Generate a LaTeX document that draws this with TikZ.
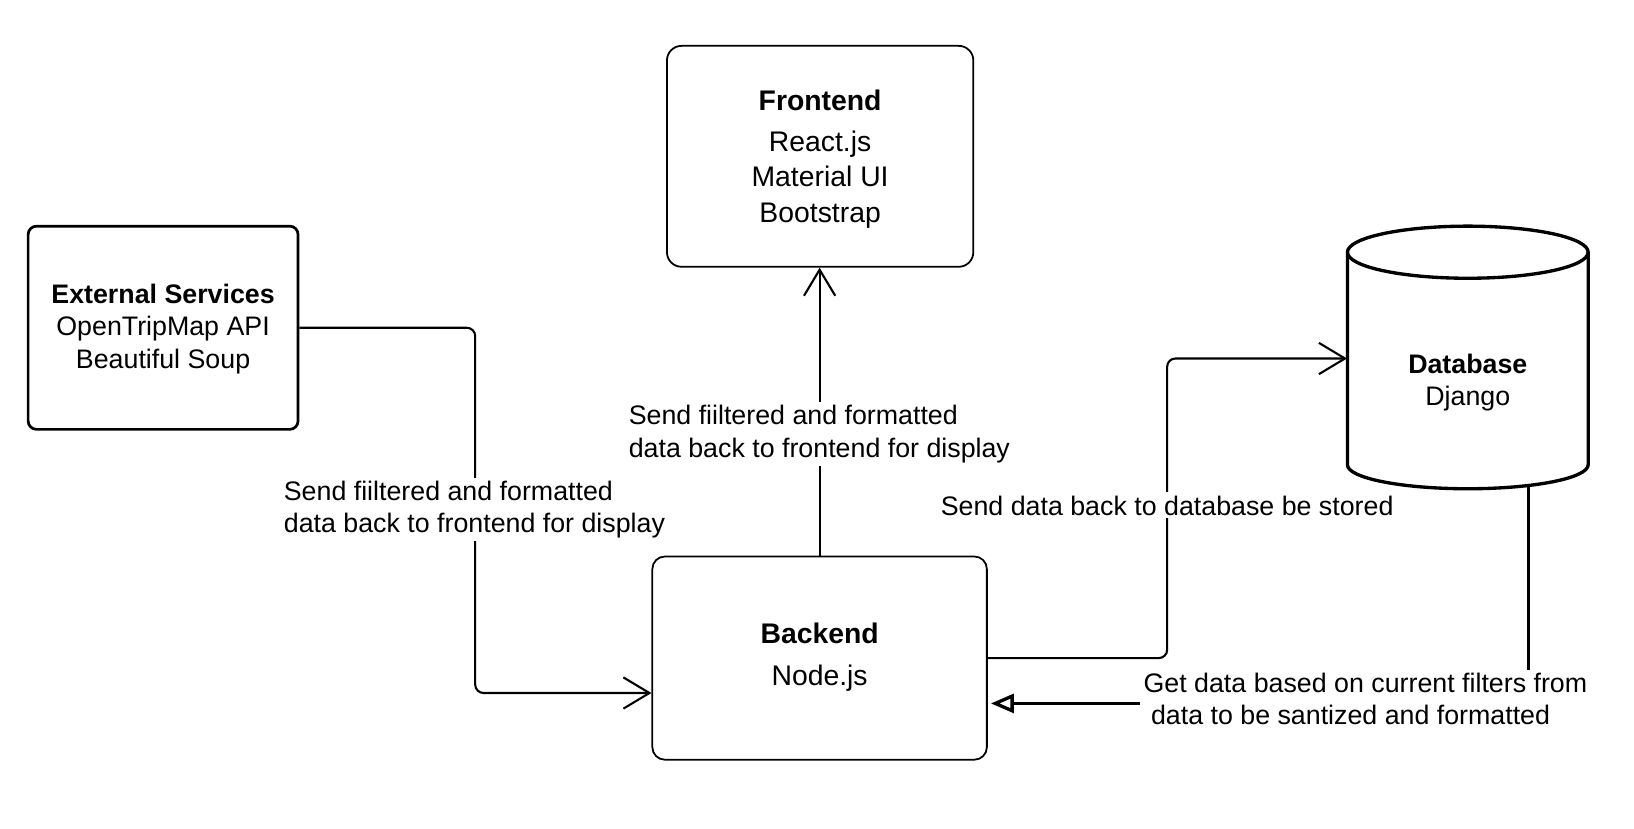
\documentclass[tikz,border=0pt]{standalone}
\usepackage{fontspec}
\setmainfont{Liberation Sans}
\usetikzlibrary{arrows.meta}
\begin{document}
\begin{tikzpicture}[x=0.5pt,y=-0.5pt,
  txt/.style={font=\fontsize{12.85}{15.5}\selectfont},
  bigtxt/.style={font=\fontsize{13.6}{17}\selectfont},
  thinbox/.style={draw, line width=0.85pt, rounded corners=7pt, align=center, inner sep=0pt},
  thickbox/.style={draw, line width=1.3pt, rounded corners=4pt, align=center, inner sep=0pt},
  conn/.style={line width=1pt, rounded corners=4pt, -{Straight Barb[length=12.5pt, width=15pt, line width=1pt]}},
  retconn/.style={line width=1.6pt, -{Triangle[open, length=11pt, width=9pt, line width=1.6pt]}},
  lbl/.style={txt, fill=white, inner sep=1.5pt, align=left}
]
\useasboundingbox (0,0) rectangle (1568,794.6);

% Frontend
\node[thinbox, minimum width=147pt, minimum height=106pt] (fe) at (787,150) {};
\node[bigtxt, align=center] (fet) at (787,152.5)
  {\textbf{Frontend}\\[2.5pt]React.js\\Material UI\\Bootstrap};

% External services
\node[thickbox, txt, minimum width=129.5pt, minimum height=97.5pt] (ext) at (156.5,314.5) {};
\node[txt, align=center] (extt) at (156.5,315.5)
  {\textbf{External Services}\\OpenTripMap API\\Beautiful Soup};

% Backend
\node[thinbox, rounded corners=6pt, minimum width=160.5pt, minimum height=97.5pt] (be) at (786.5,631.5) {};
\node[bigtxt, align=center] (bet) at (786.5,630.5) {\textbf{Backend}\\[3pt]Node.js};

% Database cylinder
\draw[line width=1.6pt, fill=white] (1293,242) -- (1293,446)
  arc[start angle=180, end angle=360, x radius=57.75pt, y radius=11.5pt]
  -- (1524,242)
  arc[start angle=0, end angle=180, x radius=57.75pt, y radius=12.5pt] -- cycle;
\draw[line width=1.6pt] (1293,242)
  arc[start angle=180, end angle=360, x radius=57.75pt, y radius=12.5pt];
\node[minimum width=115.5pt, minimum height=102pt, inner sep=0pt] (db) at (1408.5,344) {};
\node[txt, align=center] (dbt) at (1408.5,367) {\textbf{Database}\\Django};

% Connectors
\coordinate (b1) at (456,665);
\draw[conn] (ext.east) -| (b1) -- (b1 -| be.west);

\draw[conn] (be.north) -- (be.north |- fe.south);

\coordinate (b3) at (1120,344);
\draw[conn] (be.east) -| (b3) -- (b3 -| db.west);

\coordinate (dbbot) at (1467,466);
\coordinate (b4) at (1467,675);
\draw[retconn, shorten >=1.5pt] (dbbot) -- (b4) -- (b4 -| be.east);

% Labels
\node[lbl, anchor=west] (l1) at (269,489)
  {Send fiiltered and formatted\\data back to frontend for display};
\node[lbl, anchor=west] (l2) at (600,416.5)
  {Send fiiltered and formatted\\data back to frontend for display};
\node[lbl] (l3) at (1120,485) {Send data back to database be stored};
\node[lbl, anchor=west] (l4) at (1094,671)
  {Get data based on current filters from\\\ data to be santized and formatted};
\end{tikzpicture}
\end{document}
